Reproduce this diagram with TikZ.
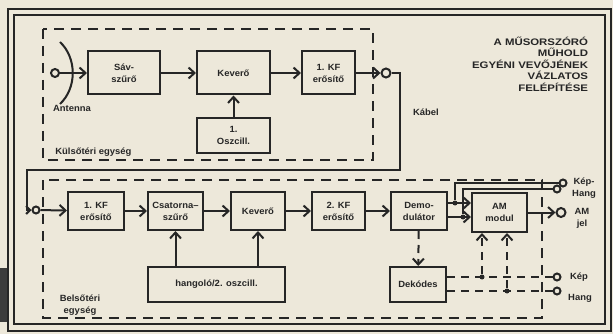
\documentclass[tikz,border=0pt]{standalone}
\usepackage{fontspec}
\setmainfont[FakeStretch=1.05]{Liberation Sans}
\newfontfamily\titlefont[FakeStretch=1.2]{Liberation Sans}
\usetikzlibrary{arrows.meta, positioning}
\definecolor{paper}{HTML}{EDE8DA}
\definecolor{ink}{HTML}{262626}

\begin{document}
\begin{tikzpicture}[x=1pt, y=-1pt, color=ink, line width=2pt,
    font=\bfseries\fontsize{9}{12}\selectfont,
    box/.style={rectangle, draw, line width=2pt, align=center, inner sep=1pt},
    plug/.style={circle, draw, line width=2pt, inner sep=0pt, minimum size=8pt},
    dot/.style={circle, fill, inner sep=0pt, minimum size=5pt},
    arrow/.style={-{Straight Barb[length=6pt, width=11pt]}},
    dashln/.style={dash pattern=on 8pt off 6pt},
    unitframe/.style={dash pattern=on 10pt off 7pt}]
    \useasboundingbox (0,0) rectangle (613,334);
    \fill[paper] (0,0) rectangle (613,334);
    \fill[ink!90] (0,268) rectangle (8,322);
    % frame
    \draw[line width=1.5pt] (8,9) rectangle (611,331);
    \draw[line width=1.5pt] (14,15) rectangle (605,324);
    \draw[unitframe] (43,29) rectangle (373,160);
    \draw[unitframe] (43,180) rectangle (542,318);

    % Nodes
    \node[plug] (ant) at (55,73) {};
    \node[box, minimum width=72pt, minimum height=43pt] (sav) at (124,73) {Sáv-\\szűrő};
    \node[box, minimum width=73pt, minimum height=43pt] (kev1) at (233.5,73) {Keverő};
    \node[box, minimum width=53pt, minimum height=43pt] (kf1) at (328.5,73) {1. KF\\erősítő};
    \node[box, minimum width=73pt, minimum height=35pt] (osc1) at (233.5,135.5) {1.\\Oszcill.};
    \node[plug, minimum size=9pt] (plug1) at (386,73) {};
    \node[plug, minimum size=7pt] (plug2) at (36,210) {};
    \node[box, minimum width=56pt, minimum height=38pt] (kf1b) at (96,211) {1. KF\\erősítő};
    \node[box, minimum width=55pt, minimum height=38pt] (csat) at (175.5,211) {Csatorna--\\szűrő};
    \node[box, minimum width=54pt, minimum height=38pt] (kev2) at (258,211) {Keverő};
    \node[box, minimum width=53pt, minimum height=38pt] (kf2) at (338.5,211) {2. KF\\erősítő};
    \node[box, minimum width=56pt, minimum height=38pt] (demod) at (419,211) {Demo-\\dulátor};
    \node[box, minimum width=55pt, minimum height=39pt] (ammod) at (499.5,212.5) {AM\\modul};
    \node[box, minimum width=137pt, minimum height=35pt] (tune) at (216.5,284.5) {hangoló/2. oszcill.};
    \node[box, minimum width=56pt, minimum height=35pt] (dekod) at (418,284.5) {Dekódes};
    \node[plug, minimum size=7pt] (kh1) at (563,183) {};
    \node[plug, minimum size=7pt] (kh2) at (557,189) {};
    \node[plug, minimum size=9pt] (amout) at (561,212.5) {};
    \node[plug, minimum size=7pt] (kep) at (557,277) {};
    \node[plug, minimum size=7pt] (hng) at (557,291) {};
    \node[dot] (jA) at (455,203) {};
    \node[dot] (jB) at (463,217) {};
    \node[dot] (jC) at (482,277) {};
    \node[dot] (jD) at (507,291) {};
    \coordinate (cabR) at (400,170);
    \coordinate (cabL) at (27,170);

    % Labels
    \node (antl) at (72,108) {Antenna};
    \node[anchor=west] (kulso) at (51,152) {Külsőtéri egység};
    \node (kabel) at (426,112) {Kábel};
    \node[align=center] (belso) at (80,305) {Belsőtéri\\egység};
    \node[align=center] (khl) at (584,188) {Kép-\\Hang};
    \node[align=center] (amjel) at (582,218) {AM\\jel};
    \node (kepl) at (579,277) {Kép};
    \node (hngl) at (580,298) {Hang};
    \node[anchor=east, align=right, inner sep=0pt,
          font=\titlefont\bfseries\fontsize{9.5}{11.5}\selectfont] (title) at (589,64)
          {A MŰSORSZÓRÓ\\MŰHOLD\\EGYÉNI VEVŐJÉNEK\\VÁZLATOS\\FELÉPÍTÉSE};

    % Dish
    \draw (60,42) .. controls (77,58) and (77,88) .. (60,104);

    % Arrows
    \draw[arrow] (ant) -- (sav);
    \draw[arrow] (sav) -- (kev1);
    \draw[arrow] (kev1) -- (kf1);
    \draw[arrow] (osc1) -- (kev1);
    \draw[arrow] (kf1) -- (plug1);
    \draw[-{Straight Barb[length=4pt, width=8pt]}] (plug1) -| (cabR) -- (cabL) |- (plug2);
    \draw[arrow] (plug2) -- (kf1b);
    \draw[arrow] (kf1b) -- (csat);
    \draw[arrow] (csat) -- (kev2);
    \draw[arrow] (kev2) -- (kf2);
    \draw[arrow] (kf2) -- (demod);
    \draw[arrow] (tune.north -| csat.south) -- (csat.south);
    \draw[arrow] (tune.north -| kev2.south) -- (kev2.south);
    \draw[arrow] (demod.east |- jA) -- (ammod.west |- jA);
    \draw[arrow] (demod.east |- jB) -- (ammod.west |- jB);
    \draw (jA) |- (kh1);
    \draw (jB) |- (kh2);
    \draw[arrow] (ammod) -- (amout);
    \draw[arrow, dashln] (demod) -- (dekod);
    \draw[dashln] (dekod.east |- jC) -- (kep);
    \draw[dashln] (dekod.east |- jD) -- (hng);
    \draw[arrow, dashln] (jC) -- (jC |- ammod.south);
    \draw[arrow, dashln] (jD) -- (jD |- ammod.south);
\end{tikzpicture}
\end{document}
